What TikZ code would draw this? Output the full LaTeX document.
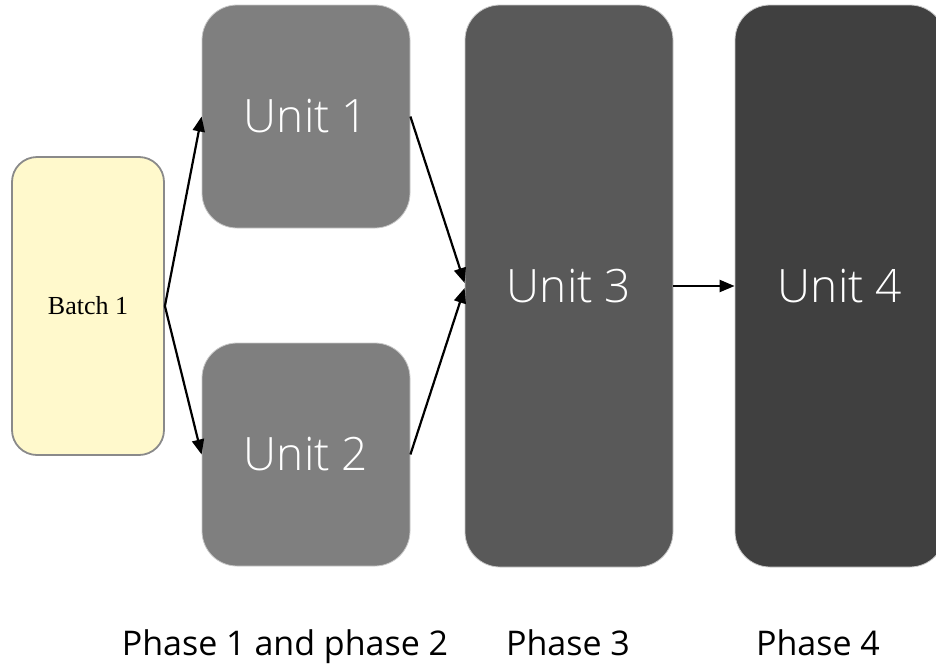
\documentclass[tikz,border=0pt]{standalone}
\usepackage{fontspec}
\usetikzlibrary{arrows.meta}
\newfontfamily\unitfont{Open Sans Light}
\newfontfamily\labelfont{Open Sans}
\newfontfamily\batchfont{Liberation Serif}
\definecolor{batchfill}{HTML}{FFF9CC}
\definecolor{batchline}{HTML}{8A8A8A}
\definecolor{unitA}{HTML}{7F7F7F}
\definecolor{unitB}{HTML}{595959}
\definecolor{unitC}{HTML}{404040}
\definecolor{unitline}{HTML}{C8C8C8}
\tikzset{
  unitbox/.style={draw=unitline, line width=0.8pt, rounded corners=35pt, inner sep=0pt,
    text=white, font=\unitfont\fontsize{46}{50}\selectfont},
  batchbox/.style={draw=batchline, fill=batchfill, line width=1.8pt, rounded corners=25pt, inner sep=0pt,
    font=\batchfont\fontsize{26}{30}\selectfont},
  phaselabel/.style={anchor=base, inner sep=0pt, font=\labelfont\fontsize{34}{38}\selectfont},
  conn/.style={line width=2.2pt, -{Triangle[length=15pt,width=12pt]}}
}
\begin{document}
\begin{tikzpicture}[x=1pt,y=-1pt]
\useasboundingbox (0,0) rectangle (936,664);
\clip (0,0) rectangle (936,664);
\node[batchbox, minimum width=152pt, minimum height=298pt] (b) at (88,306) {Batch 1};
\node[unitbox, fill=unitA, minimum width=208pt, minimum height=223pt] (u1) at (306,116.5) {Unit 1};
\node[unitbox, fill=unitA, minimum width=208pt, minimum height=223pt] (u2) at (306,454.5) {Unit 2};
\node[unitbox, fill=unitB, minimum width=208pt, minimum height=562pt] (u3) at (569,286) {Unit 3};
\node[unitbox, fill=unitC, minimum width=210pt, minimum height=562pt] (u4) at (840,286) {Unit 4};
\draw[conn] (b.east) -- (u1.west);
\draw[conn] (b.east) -- (u2.west);
\draw[conn] (u1.east) -- ([yshift=3pt]u3.west);
\draw[conn] (u2.east) -- ([yshift=-2pt]u3.west);
\draw[conn] (u3.east) -- (u4.west);
\node[phaselabel] (p1) at (285,655) {Phase 1 and phase 2};
\node[phaselabel] (p3) at (568,655) {Phase 3};
\node[phaselabel] (p4) at (818,655) {Phase 4};
\end{tikzpicture}
\end{document}
